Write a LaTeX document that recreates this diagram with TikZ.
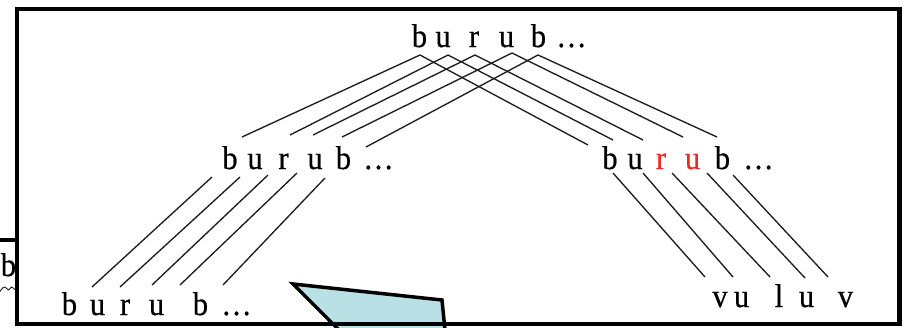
\documentclass[tikz,border=0pt]{standalone}
\usepackage{fontspec}
\newfontfamily\lf{Liberation Serif}[FakeStretch=0.92,FakeBold=0.6]
\definecolor{lnk}{RGB}{30,30,30}
\definecolor{rd}{RGB}{230,45,35}
\definecolor{callout}{RGB}{185,224,228}
\begin{document}
\begin{tikzpicture}[x=1pt,y=-1pt,
  letter/.style={anchor=base,inner sep=0pt,font=\lf\fontsize{33}{40}\selectfont},
  link/.style={draw=lnk,line width=1.35pt},
  frame/.style={draw=black,line width=4.2pt},
  callbox/.style={draw=black,fill=callout,line width=3.5pt,line join=miter},
]
\useasboundingbox (0,0) rectangle (909,327);
\clip (0,0) rectangle (909,327);

% fragment of a neighbouring box on the left
\draw[line width=3.5pt] (0,240) -- (17,240);
\node[letter] (ob) at (8.5,276) {b};
\draw[line width=0.9pt,lnk] (0,291.5) .. controls (2,288) and (4,286.5) .. (5,287)
  .. controls (6.5,287.5) and (7.5,290) .. (8.3,290)
  .. controls (9.5,290) and (10.5,287) .. (11.7,287)
  .. controls (13,287) and (14,289.5) .. (15.5,290);

% letters
\foreach \c/\x [count=\i] in {b/419.5,u/443,r/474,u/506.5,b/538.5,…/571.5}
  \node[letter] (t\i) at (\x,47) {\c};
\foreach \c/\x [count=\i] in {b/230,u/255,r/283.5,u/315,b/343.5,…/378.5}
  \node[letter] (l\i) at (\x,169) {\c};
\foreach \c/\x [count=\i] in {b/610,u/635,{\textcolor{rd}{r}}/661,{\textcolor{rd}{u}}/692.5,b/722.5,…/758.5}
  \node[letter] (r\i) at (\x,169) {\c};
\foreach \c/\x [count=\i] in {b/69.5,u/97.5,r/125,u/156.5,b/200.5,…/236.5}
  \node[letter] (bl\i) at (\x,315) {\c};
\foreach \c/\x [count=\i] in {v/720,u/741.5,l/779,u/806.5,v/845.5}
  \node[letter] (br\i) at (\x,307) {\c};

% connector end points
\foreach \x/\y [count=\i] in {420/55,448/55,475/55,512/53,538/55}
  \coordinate (ta\i) at (\x,\y);
\foreach \x/\y [count=\i] in {242/137,290/135,313/135,342/137,366/147}
  \coordinate (la\i) at (\x,\y);
\foreach \x/\y [count=\i] in {588/145,613/140,643/140,683/137,717/137}
  \coordinate (ra\i) at (\x,\y);
\foreach \x/\y [count=\i] in {212/177,240/177,268/175,297/173,325/178}
  \coordinate (lb\i) at (\x,\y);
\foreach \x/\y [count=\i] in {92/287,120/287,152/285,180/285,223/285}
  \coordinate (bla\i) at (\x,\y);
\foreach \x/\y [count=\i] in {613/173,643/173,672/173,707/173,733/175}
  \coordinate (rb\i) at (\x,\y);
\foreach \x/\y [count=\i] in {705/277,733/277,770/277,805/278,828/277}
  \coordinate (bra\i) at (\x,\y);

\foreach \i in {1,...,5}{
  \draw[link] (la\i) -- (ta\i) -- (ra\i);
  \draw[link] (lb\i) -- (bla\i);
  \draw[link] (rb\i) -- (bra\i);
}

% callout pointer (cut off at the bottom)
\draw[callbox] (293,284) -- (442,300) -- (446.5,345) -- (354,345) -- cycle;

% main frame
\draw[frame] (17,9) rectangle (899.5,324);
\end{tikzpicture}
\end{document}
